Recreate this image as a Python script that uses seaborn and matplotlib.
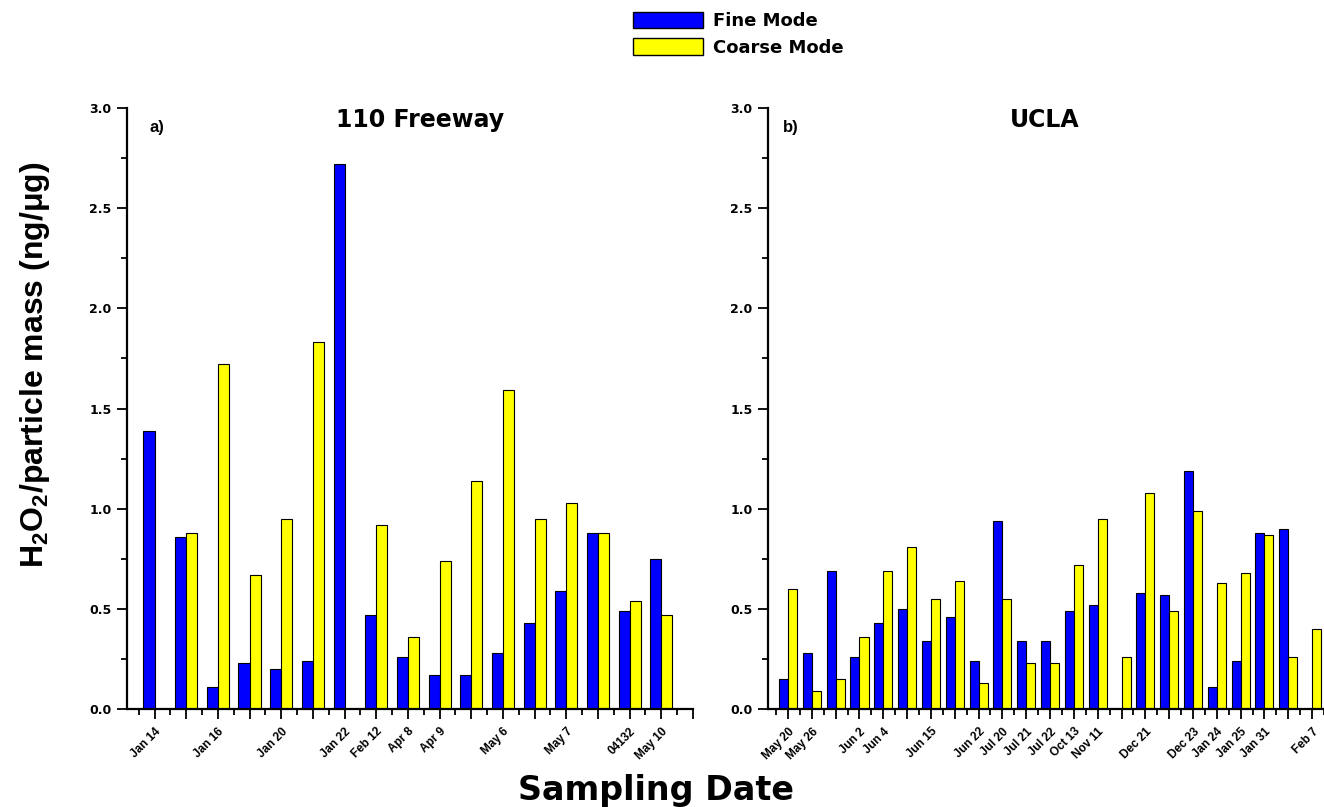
import numpy as np
import pandas as pd
import matplotlib
matplotlib.use("Agg")
import matplotlib.pyplot as plt
from matplotlib.patches import Patch
from matplotlib.ticker import MultipleLocator, FormatStrFormatter
import seaborn as sns

# ---- data: H2O2 per particle mass (ng/ug) by sampling date ----
freeway_labels = ["Jan 14", "", "Jan 16", "", "Jan 20", "", "Jan 22", "Feb 12",
                  "Apr 8", "Apr 9", "", "May 6", "", "May 7", "", "04132", "May 10"]
freeway_fine = [1.39, 0.86, 0.11, 0.23, 0.20, 0.24, 2.72, 0.47, 0.26,
                0.17, 0.17, 0.28, 0.43, 0.59, 0.88, 0.49, 0.75]
freeway_coarse = [0.0, 0.88, 1.72, 0.67, 0.95, 1.83, 0.0, 0.92, 0.36,
                  0.74, 1.14, 1.59, 0.95, 1.03, 0.88, 0.54, 0.47]

ucla_labels = ["May 20", "May 26", "", "Jun 2", "Jun 4", "", "Jun 15", "", "Jun 22",
               "Jul 20", "Jul 21", "Jul 22", "Oct 13", "Nov 11", "", "Dec 21", "",
               "Dec 23", "Jan 24", "Jan 25", "Jan 31", "", "Feb 7"]
ucla_fine = [0.15, 0.28, 0.69, 0.26, 0.43, 0.50, 0.34, 0.46, 0.24, 0.94, 0.34, 0.34,
             0.49, 0.52, 0.0, 0.58, 0.57, 1.19, 0.11, 0.24, 0.88, 0.90, 0.0]
ucla_coarse = [0.60, 0.09, 0.15, 0.36, 0.69, 0.81, 0.55, 0.64, 0.13, 0.55, 0.23, 0.23,
               0.72, 0.95, 0.26, 1.08, 0.49, 0.99, 0.63, 0.68, 0.87, 0.26, 0.40]

modes = ["Fine Mode", "Coarse Mode"]
mode_colors = {"Fine Mode": "#0000FF", "Coarse Mode": "#FFFF00"}

sns.set_style("ticks")
plt.rcParams["font.family"] = ["Liberation Sans", "DejaVu Sans"]
plt.rcParams["font.weight"] = "bold"
plt.rcParams["text.color"] = "black"
plt.rcParams["axes.labelcolor"] = "black"
plt.rcParams["xtick.color"] = "black"
plt.rcParams["ytick.color"] = "black"
plt.rcParams["mathtext.fontset"] = "custom"
plt.rcParams["mathtext.rm"] = "Liberation Sans:bold"
plt.rcParams["mathtext.bf"] = "Liberation Sans:bold"
plt.rcParams["mathtext.default"] = "rm"

WIDE = "DejaVu Sans"


def long_table(fine, coarse):
    n = len(fine)
    return pd.DataFrame({
        "sample": list(range(n)) * 2,
        "mode": [modes[0]] * n + [modes[1]] * n,
        "ratio": list(fine) + list(coarse),
    })


def draw_panel(ax, fine, coarse, labels, width, xlim):
    df = long_table(fine, coarse)
    n = len(fine)
    sns.barplot(data=df, x="sample", y="ratio", hue="mode", hue_order=modes,
                order=list(range(n)), palette=mode_colors, width=width,
                saturation=1, edgecolor="black", linewidth=0.8,
                errorbar=None, legend=False, ax=ax)
    ax.set_xlim(*xlim)
    ax.set_ylim(0, 3.0)
    major = list(range(int(np.floor(xlim[1])) + 1))
    ax.set_xticks(major)
    ax.set_xticklabels(labels + [""] * (len(major) - n), rotation=45,
                       ha="right", rotation_mode="anchor",
                       fontsize=8.5, fontweight="bold", color="black")
    ax.set_xticks(np.arange(-0.5, xlim[1] + 0.01, 1.0), minor=True)
    ax.yaxis.set_major_locator(MultipleLocator(0.5))
    ax.yaxis.set_minor_locator(MultipleLocator(0.25))
    ax.yaxis.set_major_formatter(FormatStrFormatter("%.1f"))
    for t in ax.get_yticklabels():
        t.set_family(WIDE)
        t.set_fontsize(9)
        t.set_fontweight("bold")
        t.set_color("black")
    ax.tick_params(axis="both", which="major", direction="out", length=7,
                   width=1.3, color="black", labelcolor="black", pad=4)
    ax.tick_params(axis="both", which="minor", direction="out", length=4,
                   width=1.3, color="black")
    ax.tick_params(axis="x", which="major", pad=5)
    sns.despine(ax=ax)
    for side in ("left", "bottom"):
        ax.spines[side].set_linewidth(1.6)
        ax.spines[side].set_color("black")
    ax.set_xlabel("")
    ax.set_ylabel("")


fig = plt.figure(figsize=(13.24, 8.07), dpi=100)
ax_a = fig.add_axes([127 / 1324, 1 - 709 / 807, (693 - 127) / 1324, 601 / 807])
ax_b = fig.add_axes([768 / 1324, 1 - 709 / 807, (1324 - 768) / 1324, 601 / 807])

draw_panel(ax_a, freeway_fine, freeway_coarse, freeway_labels, 0.7, (-0.87, 17.0))
draw_panel(ax_b, ucla_fine, ucla_coarse, ucla_labels, 0.76, (-0.84, 22.5))

# panel titles and letters
fig.text(420 / 1324, 1 - 127 / 807, "110 Freeway", family=WIDE, fontsize=17,
         fontweight="bold", ha="center", va="baseline", color="black")
fig.text(1045 / 1324, 1 - 127 / 807, "UCLA", family=WIDE, fontsize=17,
         fontweight="bold", ha="center", va="baseline", color="black")
fig.text(149 / 1324, 1 - 132 / 807, "a)", fontsize=12, fontweight="bold",
         ha="left", va="baseline", color="black")
fig.text(783 / 1324, 1 - 132 / 807, "b)", fontsize=12, fontweight="bold",
         ha="left", va="baseline", color="black")

# shared axis labels
fig.text(35 / 1324, 1 - 365 / 807, "H$_2$O$_2$/particle mass (ng/\u03bcg)",
         rotation=90, fontsize=23, fontweight="bold", ha="center", va="center",
         color="black")
fig.text(656 / 1324, 1 - 800 / 807, "Sampling Date", family=WIDE, fontsize=24,
         fontweight="bold", ha="center", va="baseline", color="black")

# legend
handles = [Patch(facecolor=mode_colors[m], edgecolor="black", linewidth=1.0, label=m)
           for m in modes]
leg = fig.legend(handles=handles, loc="upper left",
                 bbox_to_anchor=(633 / 1324, 1 - 12 / 807),
                 frameon=False, borderpad=0, borderaxespad=0,
                 handlelength=3.9, handleheight=1.0, handletextpad=0.55,
                 labelspacing=0.45, labelcolor="black",
                 prop={"family": WIDE, "weight": "bold", "size": 13})

fig.savefig("out.png", dpi=100, facecolor="white")
